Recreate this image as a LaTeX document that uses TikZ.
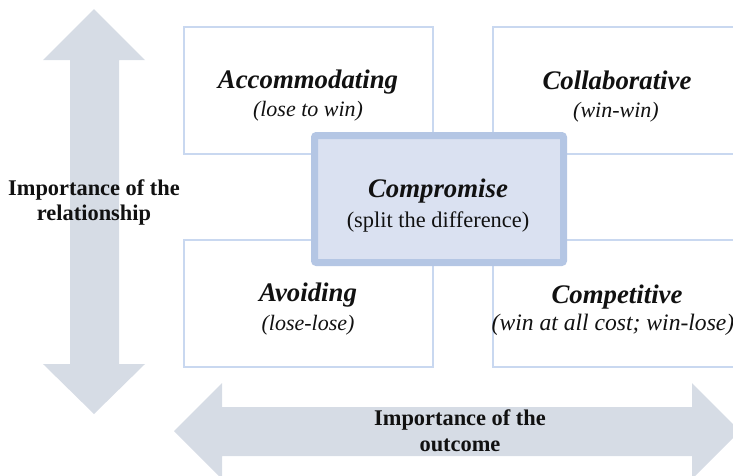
\documentclass[tikz,border=0pt]{standalone}
\usepackage{fontspec}
\setmainfont{Liberation Serif}
\definecolor{arrowfill}{HTML}{D6DCE5}
\definecolor{boxline}{HTML}{C9D8F0}
\definecolor{midfill}{HTML}{DAE1F1}
\definecolor{midline}{HTML}{B4C6E4}
\definecolor{ink}{HTML}{111111}
\tikzset{
  quad/.style={draw=boxline, line width=1.4pt, fill=white},
  title/.style={anchor=base, text=ink, inner sep=0pt, font=\fontsize{26.8}{30}\selectfont\bfseries\itshape},
  subtitle/.style={anchor=base, text=ink, inner sep=0pt, font=\fontsize{22}{25}\selectfont\itshape},
  axislabel/.style={anchor=base, text=ink, inner sep=0pt, font=\fontsize{22.4}{25}\selectfont\bfseries},
  bigarrow/.style={fill=arrowfill, draw=none}
}
\begin{document}
\begin{tikzpicture}[x=1pt, y=-1pt]
\useasboundingbox (0,0) rectangle (733,475);
\clip (0,0) rectangle (733,475);

% vertical double arrow (relationship axis)
\fill[bigarrow] (94,9) -- (145,60) -- (119,60) -- (119,364) -- (145,364)
  -- (94,414) -- (43,364) -- (70,364) -- (70,60) -- (43,60) -- cycle;

% horizontal double arrow (outcome axis)
\fill[bigarrow] (174,431) -- (222,383) -- (222,407) -- (692,407) -- (692,383)
  -- (740,431) -- (692,479) -- (692,456) -- (222,456) -- (222,479) -- cycle;

% the four quadrants
\draw[quad] (184,27) rectangle (433,154);
\draw[quad] (493,27) rectangle (745,154);
\draw[quad] (184,240) rectangle (433,367);
\draw[quad] (493,240) rectangle (745,367);

% central box
\draw[draw=midline, fill=midfill, line width=7pt, rounded corners=2pt]
  (314.5,135.5) rectangle (563.5,262.5);

% quadrant texts
\node[title] (acc) at (308,88) {Accommodating};
\node[subtitle] (accs) at (308,116) {(lose to win)};
\node[title] (col) at (617,89) {Collaborative};
\node[subtitle] (cols) at (616,117) {(win-win)};
\node[title] (avo) at (308,301) {Avoiding};
\node[subtitle] (avos) at (308,330) {(lose-lose)};
\node[title] (com) at (617,303) {Competitive};
\node[subtitle, font=\fontsize{23.6}{27}\selectfont\itshape] (coms) at (613,330) {(win at all cost; win-lose)};

\node[title] (cpr) at (438,197) {Compromise};
\node[anchor=base, text=ink, inner sep=0pt, font=\fontsize{22.4}{26}\selectfont] (cprs) at (438,227) {(split the difference)};

% axis labels
\node[axislabel] (rel1) at (94,195) {Importance of the};
\node[axislabel] (rel2) at (94,220) {relationship};
\node[axislabel] (out1) at (460,425) {Importance of the};
\node[axislabel] (out2) at (460,451) {outcome};
\end{tikzpicture}
\end{document}
